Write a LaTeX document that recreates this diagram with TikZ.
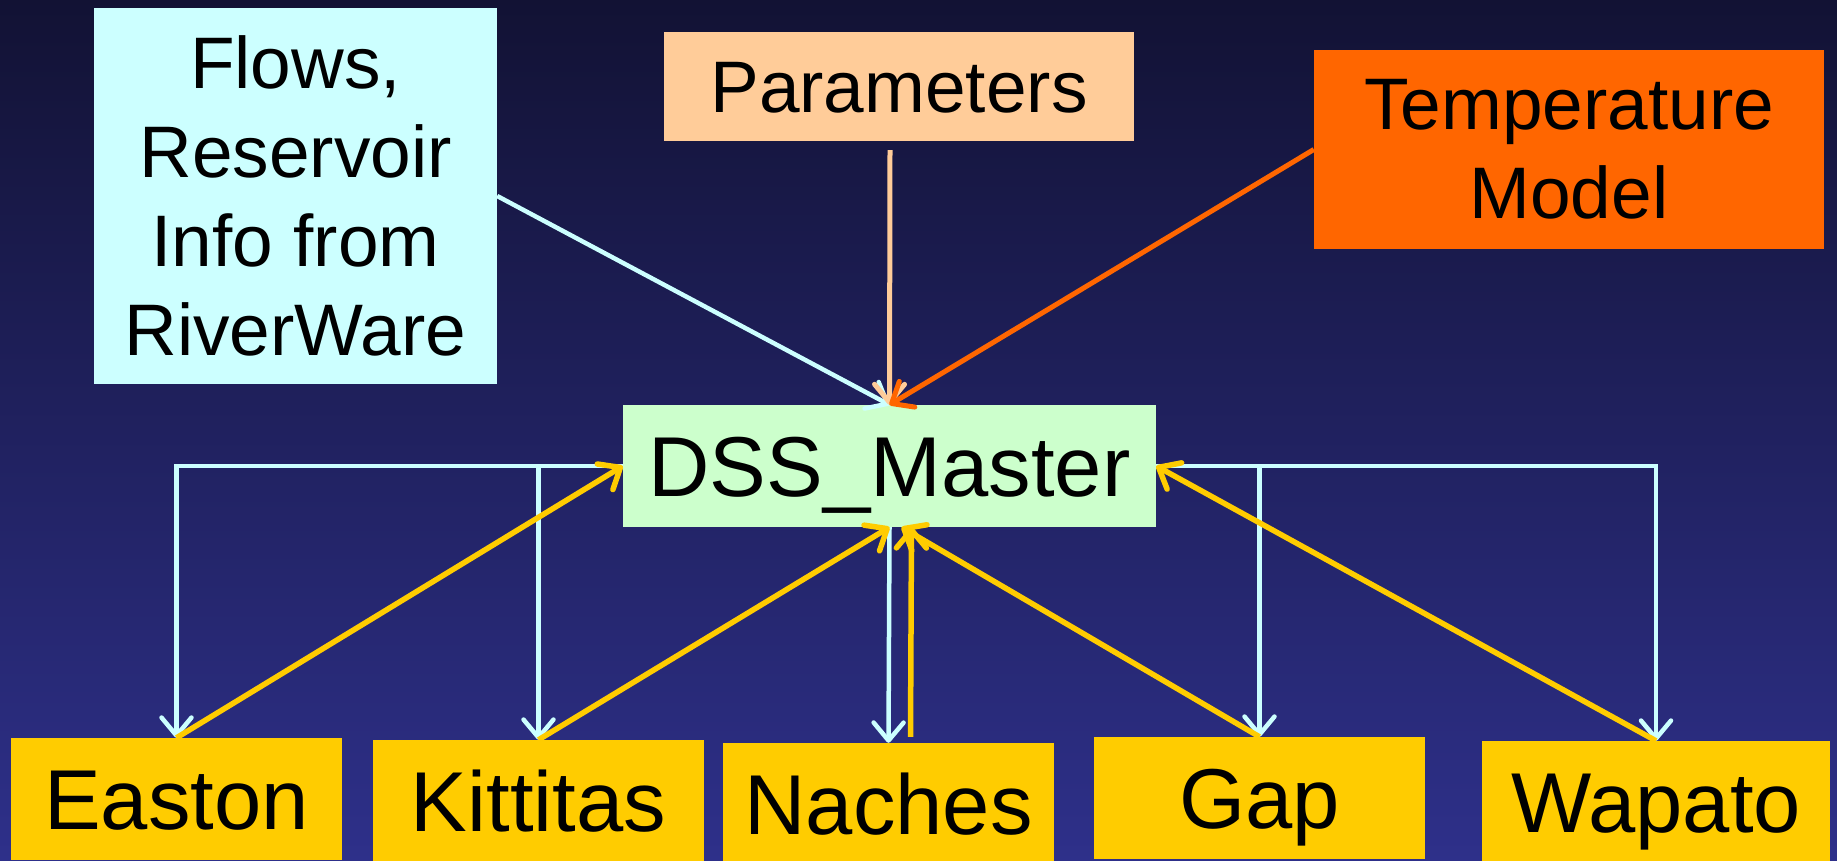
\documentclass[tikz,border=0pt]{standalone}
\usepackage{fontspec}
\setmainfont{Liberation Sans}
\usetikzlibrary{arrows.meta}

\definecolor{bgtop}{RGB}{18,18,52}
\definecolor{bgbottom}{RGB}{46,48,138}
\definecolor{flowcol}{HTML}{CCFFFF}
\definecolor{paramcol}{HTML}{FFCC99}
\definecolor{tempcol}{HTML}{FF6600}
\definecolor{mastercol}{HTML}{CCFFCC}
\definecolor{sitecol}{HTML}{FFCC00}

\newcommand\bigtext{\fontsize{85}{100}\selectfont}
\newcommand\smalltext{\fontsize{73}{89}\selectfont}

\tikzset{
  plainbox/.style={inner sep=0pt, text=black},
  sitebox/.style={plainbox, fill=sitecol, minimum width=331pt, minimum height=122pt,
    font=\bigtext, text height=61pt, text depth=0pt},
  vhead/.style={-{Straight Barb[length=18pt,width=30pt,round]}},
  feedline/.style={draw=flowcol, line width=4.5pt, vhead},
  backline/.style={draw=sitecol, line width=5.5pt, vhead},
}

\begin{document}
\begin{tikzpicture}[x=1pt,y=-1pt]
  % background
  \shade[top color=bgtop, bottom color=bgbottom] (0,0) rectangle (1837,860);
  \useasboundingbox (0,0) rectangle (1837,860);

  % inputs
  \node[plainbox, fill=flowcol, minimum width=403pt, minimum height=376pt,
    font=\smalltext, align=center] (flows) at (295.5,196)
    {Flows,\\Reservoir\\Info from\\RiverWare};
  \node[plainbox, fill=paramcol, minimum width=470pt, minimum height=109pt,
    font=\smalltext, text height=52.3pt, text depth=0pt] (params) at (899,86.5)
    {Parameters};
  \node[plainbox, fill=tempcol, minimum width=510pt, minimum height=199pt,
    font=\smalltext, align=center] (temp) at (1569,149.5)
    {Temperature\\Model};

  % master
  \node[plainbox, fill=mastercol, minimum width=533pt, minimum height=122pt,
    font=\bigtext, text height=61pt, text depth=0pt] (dss) at (889.5,466)
    {DSS\_Master};

  % sites
  \node[sitebox] (easton) at (176.5,799) {Easton};
  \node[sitebox] (kittitas) at (538.5,801) {Kittitas};
  \node[sitebox] (naches) at (888.5,804) {Naches};
  \node[sitebox] (gap) at (1259.5,798) {Gap};
  \node[sitebox, minimum width=348pt] (wapato) at (1656,802) {Wapato};

  % inputs into master
  \draw[feedline] (flows.east) -- (dss.north);
  \draw[vhead, draw=paramcol, line width=5pt] ([xshift=-9pt,yshift=-9pt]params.south) -- (dss.north);
  \draw[vhead, draw=tempcol, line width=5pt] (temp.west) -- (dss.north);

  % master out to sites
  \draw[feedline] (dss.west) -| (easton.north);
  \draw[feedline] (dss.west -| kittitas.north) -- (kittitas.north);
  \draw[feedline] (dss.east) -| (wapato.north);
  \draw[feedline] (dss.east -| gap.north) -- (gap.north);
  \draw[feedline] (dss.south) -- (naches.north);

  % sites back to master
  \draw[backline] (easton.north) -- (dss.west);
  \draw[backline] (kittitas.north) -- (dss.south);
  \draw[backline] ([xshift=22pt,yshift=6pt]naches.north) -- ([xshift=22pt]dss.south);
  \draw[backline] (gap.north) -- ([xshift=12pt]dss.south);
  \draw[backline] (wapato.north) -- (dss.east);
\end{tikzpicture}
\end{document}
